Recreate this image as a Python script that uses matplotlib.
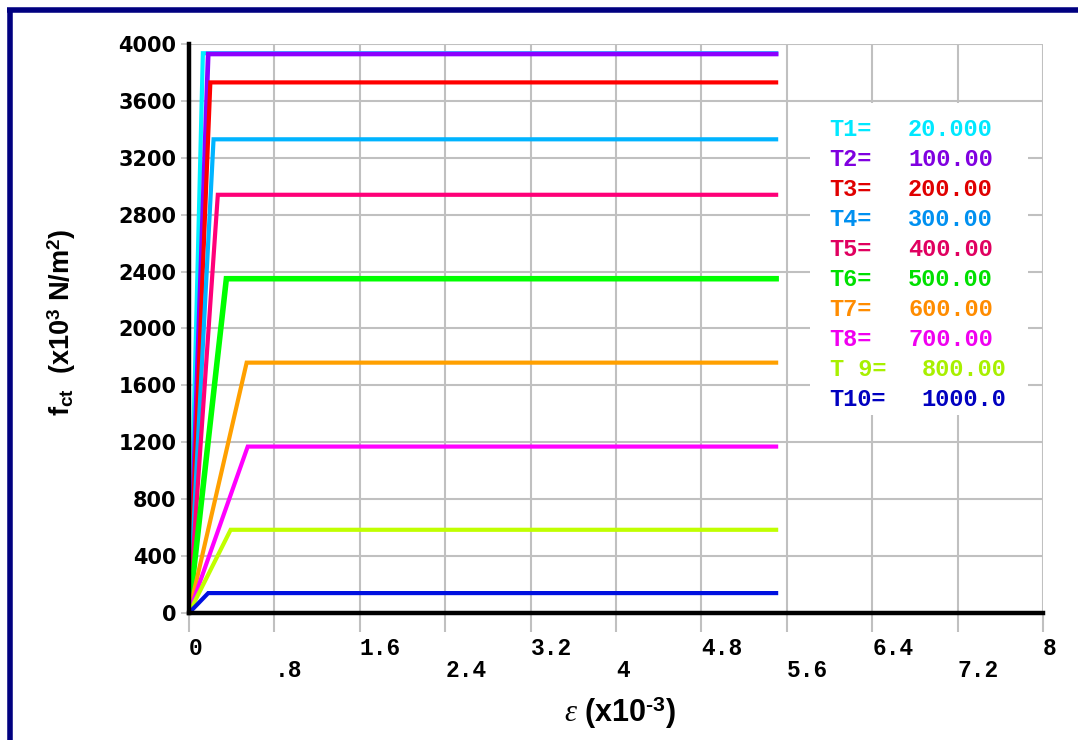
import matplotlib
matplotlib.use("Agg")
import matplotlib.pyplot as plt
from matplotlib.patches import Rectangle
from matplotlib.lines import Line2D

plt.rcParams['mathtext.fontset'] = 'custom'
plt.rcParams['mathtext.rm'] = 'Liberation Sans:bold'
plt.rcParams['mathtext.bf'] = 'Liberation Sans:bold'
plt.rcParams['mathtext.it'] = 'Liberation Serif:italic'

# ---------------- data ----------------
series_labels = ["T1=", "T2=", "T3=", "T4=", "T5=", "T6=", "T7=", "T8=", "T 9=", "T10="]
series_temps = ["20.000", "100.00", "200.00", "300.00", "400.00", "500.00", "600.00", "700.00", "800.00", "1000.0"]
peak_strain = [0.13, 0.18, 0.20, 0.23, 0.27, 0.35, 0.54, 0.55, 0.39, 0.18]
strength = [3935, 3930, 3730, 3330, 2940, 2350, 1760, 1170, 585, 140]
end_strain = 5.5
line_colors = ["#00f0ff", "#8c00ff", "#ff0000", "#00b4ff", "#ff0078",
               "#00ff00", "#ffa000", "#ff00ff", "#c0ff00", "#0010e0"]
text_colors = ["#00e8ff", "#8000e0", "#e00000", "#0090f0", "#e00060",
               "#00e000", "#ff8c00", "#f000f0", "#a8f000", "#0000c0"]
line_widths = [3, 3.4, 3, 3, 3, 4, 3, 3, 3, 3]

x_major = [0, 1.6, 3.2, 4.8, 6.4, 8]
x_major_labels = ["0", "1.6", "3.2", "4.8", "6.4", "8"]
x_minor = [0.8, 2.4, 4.0, 5.6, 7.2]
x_minor_labels = [".8", "2.4", "4", "5.6", "7.2"]
y_ticks = [0, 400, 800, 1200, 1600, 2000, 2400, 2800, 3200, 3600, 4000]
y_tick_labels = ["0", "400", "800", "1200", "1600", "2000", "2400", "2800", "3200", "3600", "4000"]

# ---------------- figure ----------------
W, H = 1078, 740
fig = plt.figure(figsize=(W / 100, H / 100), dpi=100)
fig.patch.set_facecolor("white")

# navy frame (top and left)
fig.add_artist(Line2D([9.5 / W, 9.5 / W], [0, 1 - 8 / H], transform=fig.transFigure,
                      color="#000080", lw=4.0, solid_capstyle="butt"))
fig.add_artist(Line2D([7 / W, 1.0], [1 - 10 / H, 1 - 10 / H], transform=fig.transFigure,
                      color="#000080", lw=4.0, solid_capstyle="butt"))

x0, x1 = 189, 1043
y0, y1 = 613, 44
ax = fig.add_axes([x0 / W, (H - y0) / H, (x1 - x0) / W, (y0 - y1) / H])
ax.set_xlim(0, 8)
ax.set_ylim(0, 4000)
for s in ax.spines.values():
    s.set_visible(False)

ax.set_xticks(x_major)
ax.set_xticklabels(x_major_labels)
ax.set_xticks(x_minor, minor=True)
ax.set_xticklabels(x_minor_labels, minor=True)
ax.set_yticks(y_ticks)
ax.set_yticklabels(y_tick_labels)

ax.grid(True, which="both", color="#c0c0c0", lw=1.5, zorder=0)
ax.tick_params(axis="x", which="major", direction="out", length=14, color="#c0c0c0",
               width=1.5, pad=3, labelsize=16.5)
ax.tick_params(axis="x", which="minor", direction="out", length=14, color="#c0c0c0",
               width=1.5, pad=19, labelsize=16.5)
ax.tick_params(axis="y", direction="out", length=6, color="#c0c0c0", width=1.2,
               pad=3, labelsize=15)
for lab in ax.get_xticklabels(which="both"):
    lab.set_fontfamily("Liberation Mono")
    lab.set_fontweight("bold")
    lab.set_horizontalalignment("left")
for lab in ax.get_yticklabels():
    lab.set_fontfamily("DejaVu Sans")
    lab.set_fontweight("bold")

# axes lines
ax.axvline(0, color="black", lw=3.2, zorder=5, clip_on=False)
ax.axhline(0, color="black", lw=3.2, zorder=5, clip_on=False)

# curves
for i in range(len(strength)):
    ax.plot([0, peak_strain[i], end_strain], [0, strength[i], strength[i]],
            color=line_colors[i], lw=line_widths[i], zorder=3 + i * 0.01,
            solid_joinstyle="miter")

# legend box
ax.add_patch(Rectangle((0.727, 0.348), 0.255, 0.548, transform=ax.transAxes,
                       facecolor="white", edgecolor="none", zorder=2))
for i in range(len(series_labels)):
    yy = 0.849 - i * 0.0527
    ax.text(0.750, yy, series_labels[i], transform=ax.transAxes, color=text_colors[i],
            fontfamily="Liberation Mono", fontweight="bold", fontsize=17,
            va="center", ha="left", zorder=4)
    xv = 0.842 if i < 8 else 0.858
    ax.text(xv, yy, series_temps[i], transform=ax.transAxes, color=text_colors[i],
            fontfamily="Liberation Mono", fontweight="bold", fontsize=17,
            va="center", ha="left", zorder=4)

# axis labels
fig.text(62 / W, 1 - 322 / H, r"$\mathbf{f_{ct}}$  (x10$^{3}$ N/m$^{2}$)",
         rotation=90, ha="center", va="center", fontsize=19.5,
         fontfamily="Liberation Sans", fontweight="bold")
fig.text(620 / W, 1 - 713 / H, r"$\mathit{\varepsilon}$ (x10$^{\mathrm{\text{-}3}}$)",
         ha="center", va="center", fontsize=22,
         fontfamily="Liberation Sans", fontweight="bold")

fig.savefig("out.png", dpi=100)
